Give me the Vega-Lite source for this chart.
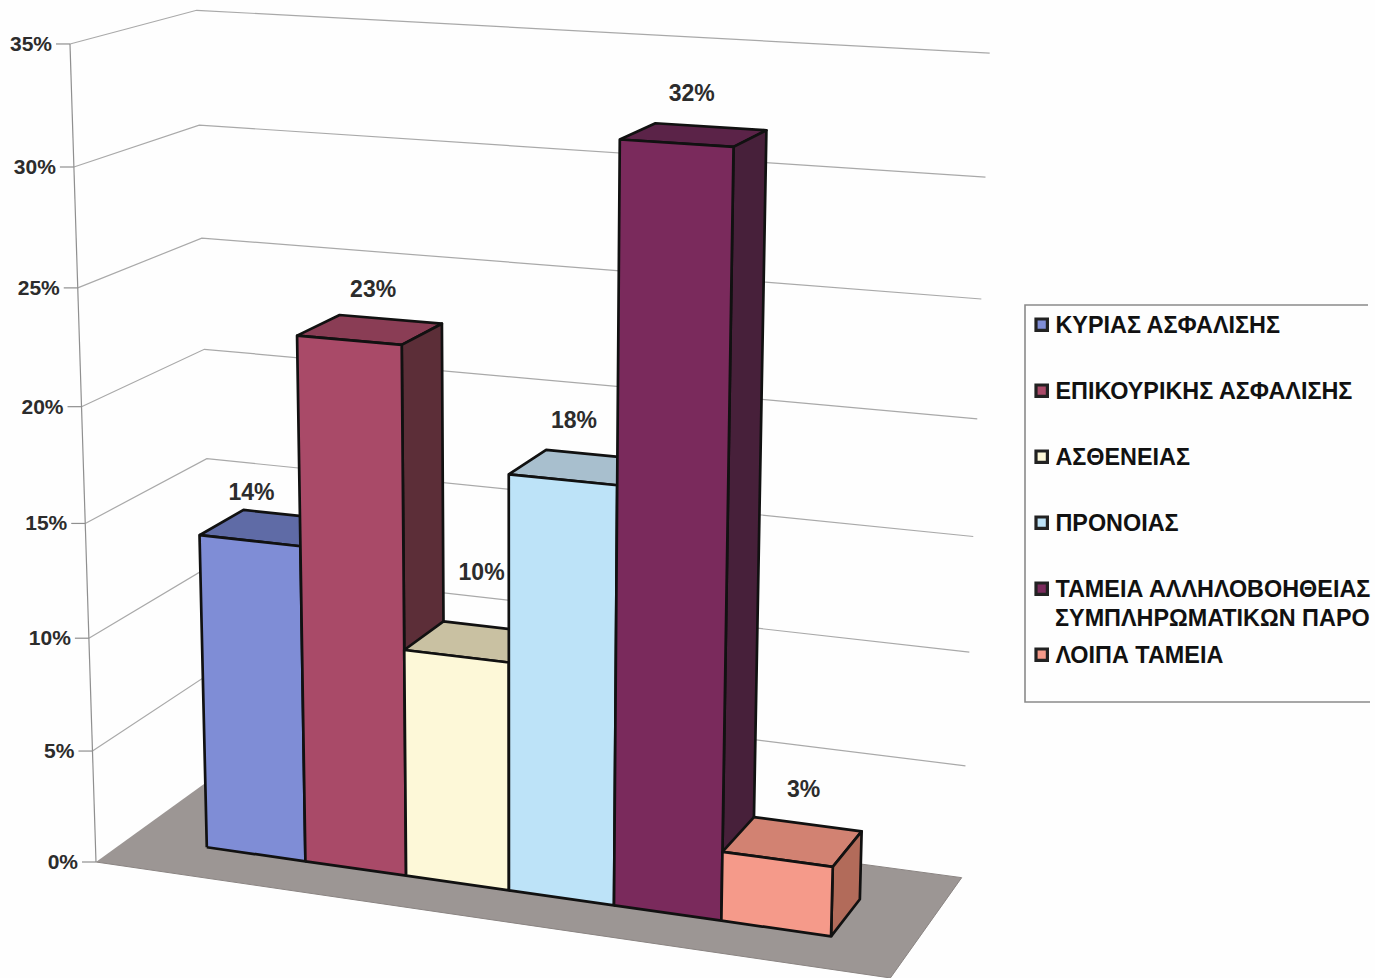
{
  "$schema": "https://vega.github.io/schema/vega-lite/v6.json",
  "width": 1375,
  "height": 978,
  "padding": 0,
  "autosize": {"type": "none"},
  "background": "#fefefe",
  "view": {"stroke": null},
  "config": {"font": "Liberation Sans"},
  "datasets": {
    "funds": [
      {"category": "ΚΥΡΙΑΣ ΑΣΦΑΛΙΣΗΣ", "value": 14, "idx": 0},
      {"category": "ΕΠΙΚΟΥΡΙΚΗΣ ΑΣΦΑΛΙΣΗΣ", "value": 23, "idx": 1},
      {"category": "ΑΣΘΕΝΕΙΑΣ", "value": 10, "idx": 2},
      {"category": "ΠΡΟΝΟΙΑΣ", "value": 18, "idx": 3},
      {"category": "ΤΑΜΕΙΑ ΑΛΛΗΛΟΒΟΗΘΕΙΑΣ ΣΥΜΠΛΗΡΩΜΑΤΙΚΩΝ ΠΑΡΟ", "value": 32, "idx": 4},
      {"category": "ΛΟΙΠΑ ΤΑΜΕΙΑ", "value": 3, "idx": 5}
    ],
    "ticks": [
      {"pct": 0}, {"pct": 5}, {"pct": 10}, {"pct": 15},
      {"pct": 20}, {"pct": 25}, {"pct": 30}, {"pct": 35}
    ],
    "single": [{"part": "plane"}]
  },
  "encoding": {
    "x": {"field": "px", "type": "quantitative", "axis": null, "scale": {"domain": [0, 1375], "range": [0, 1375]}},
    "y": {"field": "py", "type": "quantitative", "axis": null, "scale": {"domain": [0, 978], "range": [0, 978]}}
  },
  "layer": [
    {
      "data": {"name": "single"},
      "transform": [
        {"calculate": "[{s:0,u:0,v:0},{s:1,u:1,v:0},{s:2,u:1,v:1},{s:3,u:0,v:1}]", "as": "verts"},
        {"flatten": ["verts"]},
        {"calculate": "datum.verts.u", "as": "u"},
        {"calculate": "datum.verts.v", "as": "v"},
        {"calculate": "datum.verts.s", "as": "s"},
        {"calculate": "(96+724.4*datum.u+133*datum.v)/(1-0.0786*datum.u+0.07*datum.v)", "as": "px"},
        {"calculate": "(862+39.1*datum.u-31*datum.v)/(1-0.0786*datum.u+0.07*datum.v)", "as": "py"}
      ],
      "mark": {"type": "line", "fill": "#9c9694", "stroke": "#8a8482", "strokeWidth": 1},
      "encoding": {"order": {"field": "s", "type": "quantitative"}}
    },
    {
      "data": {"name": "ticks"},
      "transform": [
        {"filter": "datum.pct > 0"},
        {"calculate": "[{s:0,u:0,v:0},{s:1,u:0,v:1},{s:2,u:1,v:1}]", "as": "verts"},
        {"flatten": ["verts"]},
        {"calculate": "datum.verts.u", "as": "u"},
        {"calculate": "datum.verts.v", "as": "v"},
        {"calculate": "datum.verts.s", "as": "s"},
        {"calculate": "datum.pct/35", "as": "w"},
        {"calculate": "(96+724.4*datum.u+133*datum.v-30.1*datum.w)/(1-0.0786*datum.u+0.07*datum.v-0.05849*datum.w)", "as": "px"},
        {"calculate": "(862+39.1*datum.u-31*datum.v-820.6*datum.w)/(1-0.0786*datum.u+0.07*datum.v-0.05849*datum.w)", "as": "py"}
      ],
      "mark": {"type": "line", "stroke": "#a9a9a9", "strokeWidth": 1.2},
      "encoding": {
        "detail": {"field": "pct", "type": "nominal"},
        "order": {"field": "s", "type": "quantitative"}
      }
    },
    {
      "data": {"name": "ticks"},
      "transform": [
        {"calculate": "datum.pct/35", "as": "w"},
        {"calculate": "(96-30.1*datum.w)/(1-0.05849*datum.w)", "as": "px"},
        {"calculate": "(862-820.6*datum.w)/(1-0.05849*datum.w)", "as": "py"},
        {"calculate": "datum.px-14", "as": "pxEnd"}
      ],
      "mark": {"type": "rule", "stroke": "#8f8f8f", "strokeWidth": 1.2},
      "encoding": {"x2": {"field": "pxEnd"}}
    },
    {
      "data": {"name": "ticks"},
      "transform": [
        {"filter": "datum.pct == 0 || datum.pct == 35"},
        {"calculate": "datum.pct/35", "as": "w"},
        {"calculate": "(96-30.1*datum.w)/(1-0.05849*datum.w)", "as": "px"},
        {"calculate": "(862-820.6*datum.w)/(1-0.05849*datum.w)", "as": "py"}
      ],
      "mark": {"type": "line", "stroke": "#8f8f8f", "strokeWidth": 1.2},
      "encoding": {"order": {"field": "pct", "type": "quantitative"}}
    },
    {
      "data": {"name": "ticks"},
      "transform": [
        {"calculate": "datum.pct/35", "as": "w"},
        {"calculate": "(96-30.1*datum.w)/(1-0.05849*datum.w)-18", "as": "px"},
        {"calculate": "(862-820.6*datum.w)/(1-0.05849*datum.w)+1", "as": "py"},
        {"calculate": "datum.pct+'%'", "as": "label"}
      ],
      "mark": {"type": "text", "align": "right", "baseline": "middle", "fontSize": 21, "fontWeight": "bold", "fill": "#2c2c2c"},
      "encoding": {"text": {"field": "label"}}
    },
    {
      "data": {"name": "funds"},
      "transform": [
        {"calculate": "0.104+datum.idx*0.1333", "as": "u0"},
        {"calculate": "datum.u0+0.1333", "as": "u1"},
        {"calculate": "datum.value/35", "as": "h"},
        {"calculate": "[{f:'top',s:0,u:datum.u0,v:0.285,w:datum.h},{f:'top',s:1,u:datum.u1,v:0.285,w:datum.h},{f:'top',s:2,u:datum.u1,v:0.66,w:datum.h},{f:'top',s:3,u:datum.u0,v:0.66,w:datum.h},{f:'top',s:4,u:datum.u0,v:0.285,w:datum.h},{f:'side',s:0,u:datum.u1,v:0.285,w:0},{f:'side',s:1,u:datum.u1,v:0.66,w:0},{f:'side',s:2,u:datum.u1,v:0.66,w:datum.h},{f:'side',s:3,u:datum.u1,v:0.285,w:datum.h},{f:'side',s:4,u:datum.u1,v:0.285,w:0}]", "as": "verts"},
        {"flatten": ["verts"]},
        {"calculate": "datum.verts.u", "as": "u"},
        {"calculate": "datum.verts.v", "as": "v"},
        {"calculate": "datum.verts.w", "as": "w"},
        {"calculate": "datum.verts.s", "as": "s"},
        {"calculate": "datum.idx+'-'+datum.verts.f", "as": "face"},
        {"calculate": "(96+724.4*datum.u+133*datum.v-30.1*datum.w)/(1-0.0786*datum.u+0.07*datum.v-0.05849*datum.w)", "as": "px"},
        {"calculate": "(862+39.1*datum.u-31*datum.v-820.6*datum.w)/(1-0.0786*datum.u+0.07*datum.v-0.05849*datum.w)", "as": "py"}
      ],
      "mark": {"type": "line", "stroke": "#111111", "strokeWidth": 2.7, "strokeJoin": "round"},
      "encoding": {
        "order": {"field": "s", "type": "quantitative"},
        "fill": {
          "field": "face",
          "type": "nominal",
          "legend": null,
          "scale": {
            "domain": ["0-top", "0-side", "1-top", "1-side", "2-top", "2-side", "3-top", "3-side", "4-top", "4-side", "5-top", "5-side"],
            "range": ["#5f6ba6", "#4c5585", "#8a3d55", "#5c2e38", "#c9c1a2", "#a8a288", "#a8bfce", "#8ca3b2", "#5b2348", "#47203a", "#d28272", "#b26b5a"]
          }
        }
      }
    },
    {
      "data": {"name": "funds"},
      "transform": [
        {"calculate": "0.104+datum.idx*0.1333", "as": "u0"},
        {"calculate": "datum.u0+0.1333", "as": "u1"},
        {"calculate": "datum.value/35", "as": "h"},
        {"calculate": "[{s:0,u:datum.u0,w:0},{s:1,u:datum.u1,w:0},{s:2,u:datum.u1,w:datum.h},{s:3,u:datum.u0,w:datum.h},{s:4,u:datum.u0,w:0}]", "as": "verts"},
        {"flatten": ["verts"]},
        {"calculate": "datum.verts.u", "as": "u"},
        {"calculate": "0.285", "as": "v"},
        {"calculate": "datum.verts.w", "as": "w"},
        {"calculate": "datum.verts.s", "as": "s"},
        {"calculate": "(96+724.4*datum.u+133*datum.v-30.1*datum.w)/(1-0.0786*datum.u+0.07*datum.v-0.05849*datum.w)", "as": "px"},
        {"calculate": "(862+39.1*datum.u-31*datum.v-820.6*datum.w)/(1-0.0786*datum.u+0.07*datum.v-0.05849*datum.w)", "as": "py"}
      ],
      "mark": {"type": "line", "stroke": "#111111", "strokeWidth": 2.7, "strokeJoin": "round"},
      "encoding": {
        "order": {"field": "s", "type": "quantitative"},
        "fill": {
          "field": "category",
          "type": "nominal",
          "sort": null,
          "scale": {
            "domain": ["ΚΥΡΙΑΣ ΑΣΦΑΛΙΣΗΣ", "ΕΠΙΚΟΥΡΙΚΗΣ ΑΣΦΑΛΙΣΗΣ", "ΑΣΘΕΝΕΙΑΣ", "ΠΡΟΝΟΙΑΣ", "ΤΑΜΕΙΑ ΑΛΛΗΛΟΒΟΗΘΕΙΑΣ ΣΥΜΠΛΗΡΩΜΑΤΙΚΩΝ ΠΑΡΟ", "ΛΟΙΠΑ ΤΑΜΕΙΑ"],
            "range": ["#7f8dd6", "#a94a68", "#fdf8d8", "#bde3f8", "#7a2a5c", "#f59a8a"]
          },
          "legend": {
            "orient": "none",
            "legendX": 1030,
            "legendY": 313,
            "title": null,
            "symbolType": "square",
            "symbolSize": 130,
            "symbolStrokeColor": "#222222",
            "symbolStrokeWidth": 3.2,
            "symbolOpacity": 1,
            "labelFontSize": 23.4,
            "labelFontWeight": "bold",
            "labelColor": "#111111",
            "labelLimit": 400,
            "labelOffset": 2,
            "rowPadding": 40,
            "labelBaseline": "alphabetic",
            "labelExpr": "datum.label == 'ΤΑΜΕΙΑ ΑΛΛΗΛΟΒΟΗΘΕΙΑΣ ΣΥΜΠΛΗΡΩΜΑΤΙΚΩΝ ΠΑΡΟ' ? 'ΤΑΜΕΙΑ ΑΛΛΗΛΟΒΟΗΘΕΙΑΣ' : datum.label",
            "encode": {"labels": {"update": {"dy": {"value": 8.5}}}}
          }
        }
      }
    },
    {
      "data": {"name": "funds"},
      "transform": [
        {"calculate": "0.104+datum.idx*0.1333+0.0667", "as": "u"},
        {"calculate": "0.4725", "as": "v"},
        {"calculate": "datum.value/35", "as": "w"},
        {"calculate": "(96+724.4*datum.u+133*datum.v-30.1*datum.w)/(1-0.0786*datum.u+0.07*datum.v-0.05849*datum.w)+[-20,3,6,-7,-2,11][datum.idx]", "as": "px"},
        {"calculate": "(862+39.1*datum.u-31*datum.v-820.6*datum.w)/(1-0.0786*datum.u+0.07*datum.v-0.05849*datum.w)+[-35,-40,-69,-46,-41,-52][datum.idx]", "as": "py"},
        {"calculate": "datum.value+'%'", "as": "label"}
      ],
      "mark": {"type": "text", "align": "center", "baseline": "middle", "fontSize": 23, "fontWeight": "bold", "fill": "#2c2c2c"},
      "encoding": {"text": {"field": "label"}}
    },
    {
      "data": {"name": "funds"},
      "transform": [
        {"filter": "datum.idx == 4"},
        {"calculate": "1055", "as": "px"},
        {"calculate": "626", "as": "py"},
        {"calculate": "slice(datum.category, indexof(datum.category, 'ΣΥΜΠ'))", "as": "label"}
      ],
      "mark": {"type": "text", "align": "left", "baseline": "alphabetic", "fontSize": 23.4, "fontWeight": "bold", "fill": "#111111"},
      "encoding": {"text": {"field": "label"}}
    },
    {
      "data": {"name": "single"},
      "transform": [
        {"calculate": "[{s:0,a:1368,b:305},{s:1,a:1025,b:305},{s:2,a:1025,b:702},{s:3,a:1370,b:702}]", "as": "verts"},
        {"flatten": ["verts"]},
        {"calculate": "datum.verts.a", "as": "px"},
        {"calculate": "datum.verts.b", "as": "py"},
        {"calculate": "datum.verts.s", "as": "s"}
      ],
      "mark": {"type": "line", "stroke": "#8a8a8a", "strokeWidth": 1.6},
      "encoding": {"order": {"field": "s", "type": "quantitative"}}
    }
  ],
  "resolve": {"scale": {"fill": "independent"}}
}
